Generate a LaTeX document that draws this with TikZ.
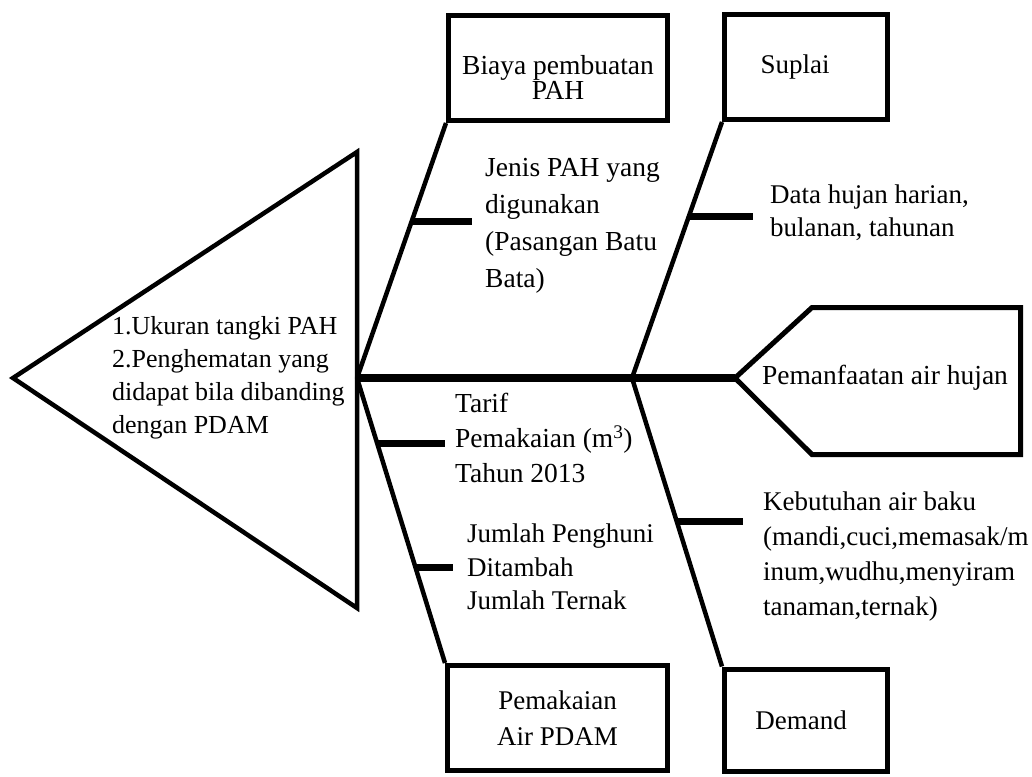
\documentclass[tikz,border=0pt]{standalone}
\usepackage{fontspec}
\setmainfont{Liberation Serif}
\usetikzlibrary{positioning,calc}

\newcommand{\fsz}[2]{\fontsize{#1}{#2}\selectfont}

\begin{document}
\begin{tikzpicture}[x=1pt, y=-1pt,
	cause/.style={rectangle, draw=black, line width=5pt, align=center, inner sep=2pt},
	note/.style={align=left, inner sep=0pt, anchor=west},
	bone/.style={line width=4.5pt},
	rib/.style={line width=7pt},
	spine/.style={line width=8pt},
	frame/.style={line width=4.5pt, line join=miter}]

	\useasboundingbox (0,0) rectangle (1032,776);

	% head of the fish
	\coordinate (tip) at (13,378);
	\coordinate (head) at (357,378);
	\draw[frame] (tip) -- (357,152) -- (357,608) -- cycle;
	\node (problem) [note, font=\fsz{26}{33}] at (112,378) {1.Ukuran tangki PAH\\2.Penghematan yang\\didapat bila dibanding\\dengan PDAM};

	% tail
	\coordinate (tail) at (735,378);
	\draw[frame, line width=5pt] (tail) -- (812,307.5) -- (1020.5,307.5) -- (1020.5,454.5) -- (812,454.5) -- cycle;
	\node (use) [font=\fsz{27.5}{35}] at (885,378) {Pemanfaatan air hujan};

	\draw[spine] (head) -- (tail);
	\coordinate (mid) at (632,378);

	% main causes
	\node (cost) [cause, minimum width=219pt, minimum height=105pt,
		label={[yshift=-9pt, align=center, font=\fsz{27.5}{25}]center:Biaya pembuatan\\PAH}] at (558,68) {};
	\node (supply) [cause, minimum width=163pt, minimum height=105pt, font=\fsz{27}{35}] at (806,67) {\hspace{-22pt}Suplai};
	\node (pdam) [cause, minimum width=220pt, minimum height=105pt, font=\fsz{27}{36}] at (557.5,718) {Pemakaian\\Air PDAM};
	\node (demand) [cause, minimum width=163pt, minimum height=102pt, font=\fsz{27}{35}] at (806,720) {\hspace{-10pt}Demand};

	\draw[bone] (head) -- (cost.south west);
	\draw[bone] (head) -- (pdam.north west);
	\draw[bone] (mid) -- (supply.south west);
	\draw[bone] (mid) -- (demand.north west);

	% sub causes
	\node (kind) [note, font=\fsz{27.5}{37}] at (485,226) {Jenis PAH yang\\digunakan\\(Pasangan Batu\\Bata)};
	\node (rain) [note, font=\fsz{27}{33}] at (770,213) {Data hujan harian,\\bulanan, tahunan};
	\node (tariff) [note, font=\fsz{27.5}{35}] at (455,438) {Tarif\\Pemakaian (m\textsuperscript{3})\\Tahun 2013};
	\node (people) [note, font=\fsz{27}{33.5}] at (467,567) {Jumlah Penghuni\\Ditambah\\Jumlah Ternak};
	\node (need) [note, font=\fsz{27}{35}] at (763,556) {Kebutuhan air baku\\(mandi,cuci,memasak/m\\inum,wudhu,menyiram\\tanaman,ternak)};

	\coordinate (r1) at ($(head)!0.612!(cost.south west)$);
	\coordinate (r2) at ($(mid)!0.629!(supply.south west)$);
	\coordinate (r3) at ($(head)!0.229!(pdam.north west)$);
	\coordinate (r4) at ($(head)!0.665!(pdam.north west)$);
	\coordinate (r5) at ($(mid)!0.498!(demand.north west)$);

	\draw[rib, shorten >=13pt] (r1) -- (r1 -| kind.west);
	\draw[rib, shorten >=17pt] (r2) -- (r2 -| rain.west);
	\draw[rib, shorten >=10pt] (r3) -- (r3 -| tariff.west);
	\draw[rib, shorten >=14pt] (r4) -- (r4 -| people.west);
	\draw[rib, shorten >=20pt] (r5) -- (r5 -| need.west);

\end{tikzpicture}
\end{document}
